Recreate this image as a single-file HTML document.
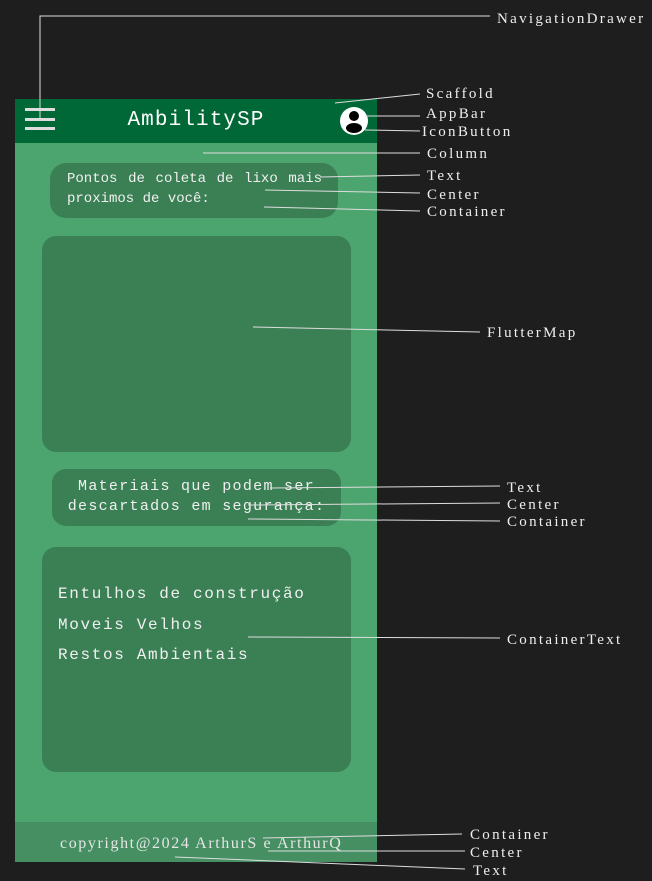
<!DOCTYPE html>
<html><head><meta charset="utf-8"><style>
body{margin:0;width:652px;height:881px;background:#1e1e1e;position:relative;overflow:hidden;font-family:"Liberation Mono",monospace}
.a{position:absolute}
.lbl{position:absolute;font-family:"Liberation Serif",serif;color:#eee;font-size:15px;line-height:18px;letter-spacing:2.3px}
.box{position:absolute;background:#3b8055}
.t{color:#f0f0f0;font-size:14px;line-height:20px}
</style></head><body>
<div class="a" style="left:15px;top:99px;width:362px;height:763px;background:#4ca56e"></div>
<div class="a" style="left:15px;top:99px;width:362px;height:44px;background:#006837"></div>
<div class="a" style="left:25px;top:108px;width:30px;height:3px;background:#ddd"></div>
<div class="a" style="left:25px;top:118px;width:30px;height:3px;background:#ddd"></div>
<div class="a" style="left:25px;top:127px;width:30px;height:3px;background:#ddd"></div>
<div class="a" style="left:15px;top:106px;width:362px;text-align:center;color:#fff;font-size:21px;line-height:30px;letter-spacing:1.1px">AmbilitySP</div>
<svg class="a" style="left:339px;top:106px" width="30" height="30"><circle cx="15" cy="15" r="14" fill="#fff"/><circle cx="15" cy="10" r="5" fill="#000"/><ellipse cx="15" cy="22" rx="8" ry="5" fill="#000"/></svg>
<div class="box" style="left:50px;top:163px;width:288px;height:55px;border-radius:16px"></div>
<div class="a t" style="left:67px;top:169px;width:255px;text-align:justify;text-align-last:left">Pontos de coleta de lixo mais proximos de você:</div>
<div class="box" style="left:42px;top:236px;width:309px;height:216px;border-radius:14px"></div>
<div class="box" style="left:52px;top:469px;width:289px;height:57px;border-radius:14px"></div>
<div class="a t" style="left:52px;top:477px;width:289px;text-align:center;font-size:15px;letter-spacing:1.3px">Materiais que podem ser descartados em segurança:</div>
<div class="box" style="left:42px;top:547px;width:309px;height:225px;border-radius:14px"></div>
<div class="a" style="left:58px;top:579px;color:#f0f0f0;font-size:16px;line-height:30.5px;letter-spacing:1.65px">Entulhos de construção<br>Moveis Velhos<br>Restos Ambientais</div>
<div class="a" style="left:15px;top:822px;width:362px;height:40px;background:#458f62"></div>
<div class="a" style="left:60px;top:834px;font-family:'Liberation Serif',serif;color:#e6e6e6;font-size:16px;line-height:20px;letter-spacing:1.6px">copyright@2024 ArthurS e ArthurQ</div>
<svg class="a" style="left:0;top:0" width="652" height="881" fill="none" stroke="#ddd" stroke-width="1">
<polyline points="40,118 40,16 490,16"/>
<line x1="335" y1="103" x2="420" y2="94"/>
<line x1="365" y1="116" x2="420" y2="116"/>
<line x1="365" y1="130" x2="420" y2="131"/>
<line x1="203" y1="153" x2="420" y2="153"/>
<line x1="320" y1="177" x2="420" y2="175"/>
<line x1="265" y1="190" x2="420" y2="193"/>
<line x1="264" y1="207" x2="420" y2="211"/>
<line x1="253" y1="327" x2="480" y2="332"/>
<line x1="270" y1="488" x2="500" y2="486"/>
<line x1="248" y1="505" x2="500" y2="503"/>
<line x1="248" y1="519" x2="500" y2="521"/>
<line x1="248" y1="637" x2="500" y2="638"/>
<line x1="263" y1="838" x2="462" y2="834"/>
<line x1="268" y1="851" x2="465" y2="851"/>
<line x1="175" y1="857" x2="465" y2="869"/>
</svg>
<div class="lbl" style="left:497px;top:10px">NavigationDrawer</div>
<div class="lbl" style="left:426px;top:85px">Scaffold</div>
<div class="lbl" style="left:426px;top:105px">AppBar</div>
<div class="lbl" style="left:422px;top:123px">IconButton</div>
<div class="lbl" style="left:427px;top:145px">Column</div>
<div class="lbl" style="left:427px;top:167px">Text</div>
<div class="lbl" style="left:427px;top:186px">Center</div>
<div class="lbl" style="left:427px;top:203px">Container</div>
<div class="lbl" style="left:487px;top:324px">FlutterMap</div>
<div class="lbl" style="left:507px;top:479px">Text</div>
<div class="lbl" style="left:507px;top:496px">Center</div>
<div class="lbl" style="left:507px;top:513px">Container</div>
<div class="lbl" style="left:507px;top:631px">ContainerText</div>
<div class="lbl" style="left:470px;top:826px">Container</div>
<div class="lbl" style="left:470px;top:844px">Center</div>
<div class="lbl" style="left:473px;top:862px">Text</div>
</body></html>
